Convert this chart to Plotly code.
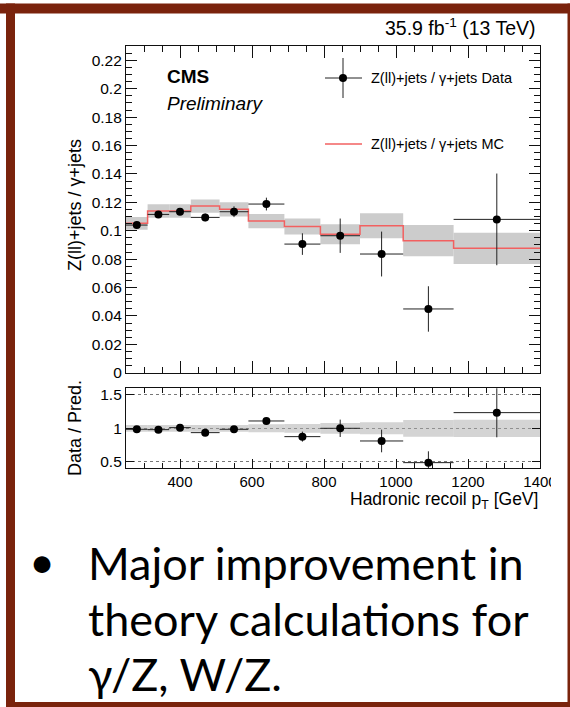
import plotly.graph_objects as go

# ---------------- data ----------------
bin_edges = [250, 310, 370, 430, 510, 590, 690, 790, 900, 1020, 1160, 1400]
data_ratio = [0.1040, 0.1115, 0.1134, 0.1094, 0.1134, 0.1188, 0.0906, 0.0965, 0.0836, 0.0449, 0.1080]
data_ratio_err = [0.0020, 0.0022, 0.0024, 0.0027, 0.0038, 0.0045, 0.0076, 0.0121, 0.0158, 0.0160, 0.0323]
mc_ratio = [0.1052, 0.1139, 0.1139, 0.1174, 0.1151, 0.1068, 0.1030, 0.0975, 0.1035, 0.0930, 0.0876]
mc_ratio_err = [0.0045, 0.0047, 0.0047, 0.0047, 0.0050, 0.0050, 0.0056, 0.0070, 0.0088, 0.0110, 0.0110]
data_over_pred = [0.985, 0.980, 1.010, 0.935, 0.985, 1.110, 0.875, 1.000, 0.810, 0.485, 1.235]
data_over_pred_err = [0.020, 0.022, 0.022, 0.025, 0.034, 0.045, 0.075, 0.130, 0.170, 0.170, 0.370]
pred_band = [0.050, 0.050, 0.050, 0.050, 0.050, 0.060, 0.065, 0.080, 0.090, 0.125, 0.130]

main_ytick_vals = [0, 0.02, 0.04, 0.06, 0.08, 0.10, 0.12, 0.14, 0.16, 0.18, 0.20, 0.22]
main_ytick_text = ["0", "0.02", "0.04", "0.06", "0.08", "0.1", "0.12", "0.14", "0.16", "0.18", "0.2", "0.22"]
ratio_ytick_vals = [0.5, 1.0, 1.5]
ratio_ytick_text = ["0.5", "1", "1.5"]
xtick_vals = [400, 600, 800, 1000, 1200, 1400]
xtick_text = ["400", "600", "800", "1000", "1200", "1400"]

bullet_lines = ["Major improvement in", "theory calculations for", "γ/Z, W/Z."]

# ---------------- helpers ----------------
W, H = 570, 707
def px(x):
    return x / W
def py(y):
    return 1 - y / H

centers = [(a + b) / 2 for a, b in zip(bin_edges[:-1], bin_edges[1:])]
widths = [b - a for a, b in zip(bin_edges[:-1], bin_edges[1:])]
half_w = [w / 2 for w in widths]

FONT = "Liberation Sans, Arial, Helvetica, sans-serif"
AX = "#111111"

fig = go.Figure()

# MC uncertainty band (main)
fig.add_trace(go.Bar(
    x=centers, width=widths,
    base=[m - e for m, e in zip(mc_ratio, mc_ratio_err)],
    y=[2 * e for e in mc_ratio_err],
    marker=dict(color="#cccccc", line=dict(width=0)),
    xaxis="x", yaxis="y", showlegend=False, hoverinfo="skip"))

# MC step line
fig.add_trace(go.Scatter(
    x=bin_edges, y=mc_ratio + [mc_ratio[-1]],
    mode="lines", line=dict(color="#f26060", width=1.5, shape="hv"),
    xaxis="x", yaxis="y", showlegend=False, hoverinfo="skip"))

# Data
fig.add_trace(go.Scatter(
    x=centers, y=data_ratio, mode="markers",
    marker=dict(color="black", size=8),
    error_x=dict(type="data", array=half_w, symmetric=True, width=0, thickness=1, color="#222"),
    error_y=dict(type="data", array=data_ratio_err, symmetric=True, width=0, thickness=1, color="#222"),
    xaxis="x", yaxis="y", showlegend=False, hoverinfo="skip"))

# ratio band
fig.add_trace(go.Bar(
    x=centers, width=widths,
    base=[1 - b for b in pred_band],
    y=[2 * b for b in pred_band],
    marker=dict(color="rgba(170,170,170,0.5)", line=dict(width=0)),
    xaxis="x2", yaxis="y2", showlegend=False, hoverinfo="skip"))

fig.add_trace(go.Scatter(
    x=centers, y=data_over_pred, mode="markers",
    marker=dict(color="black", size=8),
    error_x=dict(type="data", array=half_w, symmetric=True, width=0, thickness=1, color="#222"),
    error_y=dict(type="data", array=data_over_pred_err, symmetric=True, width=0, thickness=1, color="#222"),
    xaxis="x2", yaxis="y2", showlegend=False, hoverinfo="skip"))

xdom = [px(126), px(540)]
common_x = dict(range=[250, 1400], showline=True, linecolor=AX, linewidth=1.2, mirror="ticks",
                ticks="inside", tickcolor=AX, tickwidth=1, showgrid=False, zeroline=False,
                tickvals=xtick_vals, ticktext=xtick_text, automargin=False,
                tickfont=dict(family=FONT, size=15, color="black"))

fig.update_layout(
    width=W, height=H, autosize=False,
    margin=dict(l=0, r=0, t=0, b=0, pad=0),
    paper_bgcolor="white", plot_bgcolor="white",
    barmode="overlay", hovermode=False, showlegend=False,
    xaxis=dict(domain=xdom, anchor="y", showticklabels=False, ticklen=12,
               minor=dict(ticks="inside", ticklen=6, dtick=50, tick0=0, tickcolor=AX, showgrid=False),
               **common_x),
    yaxis=dict(domain=[py(372.7), py(45.5)], anchor="x", range=[0, 0.2305],
               tickvals=main_ytick_vals, ticktext=main_ytick_text,
               showline=True, linecolor=AX, linewidth=1.2, mirror="ticks",
               ticks="inside", ticklen=11, tickcolor=AX, tickwidth=1,
               minor=dict(ticks="inside", ticklen=5.5, dtick=0.005, tick0=0, tickcolor=AX, showgrid=False),
               showgrid=False, zeroline=False, automargin=False,
               tickfont=dict(family=FONT, size=15.5, color="black")),
    xaxis2=dict(domain=xdom, anchor="y2", ticklen=9,
                minor=dict(ticks="inside", ticklen=5, dtick=50, tick0=0, tickcolor=AX, showgrid=False),
                **common_x),
    yaxis2=dict(domain=[py(468.3), py(388.3)], anchor="x2", range=[0.4, 1.6],
                tickvals=ratio_ytick_vals, ticktext=ratio_ytick_text,
                showline=True, linecolor=AX, linewidth=1.2, mirror="ticks",
                ticks="inside", ticklen=8, tickcolor=AX, tickwidth=1,
                showgrid=True, gridcolor="#777777", griddash="dot", gridwidth=1,
                zeroline=False, automargin=False,
                tickfont=dict(family=FONT, size=15.5, color="black")),
)

ann = []
def add_text(text, x, y, size, xanchor="left", yanchor="middle", family=FONT, angle=0, color="black"):
    ann.append(dict(text=text, x=px(x), y=py(y), xref="paper", yref="paper",
                    xanchor=xanchor, yanchor=yanchor, showarrow=False, textangle=angle,
                    font=dict(family=family, size=size, color=color)))

add_text("35.9 fb<sup>-1</sup> (13 TeV)", 538, 27, 19.5, xanchor="right")
add_text("<b>CMS</b>", 165, 76, 19)
add_text("<i>Preliminary</i>", 165, 103, 19)
add_text("Z(ll)+jets / γ+jets Data", 369, 78, 14.5)
add_text("Z(ll)+jets / γ+jets MC", 369, 144, 14.5)
add_text("Z(ll)+jets / γ+jets", 75, 205, 18, xanchor="center", angle=-90)
add_text("Data / Pred.", 75, 428, 18, xanchor="center", angle=-90)
add_text("Hadronic recoil p<sub>T</sub> [GeV]", 540, 487, 17.5, xanchor="right", yanchor="top")

# bullet text
BF = "Lato, Calibri, Carlito, sans-serif"
add_text("•", 27, 561, 45, family=BF)
for i, line in enumerate(bullet_lines):
    add_text(line, 86, 563 + i * 55.5, 45, family=BF)

fig.update_layout(annotations=ann)

shapes = []
BROWN = "#7a230c"
def rect(x0, y0, x1, y1, color, layer="above"):
    shapes.append(dict(type="rect", xref="paper", yref="paper",
                       x0=px(x0), x1=px(x1), y0=py(y1), y1=py(y0),
                       fillcolor=color, line=dict(width=0), layer=layer))

# legend glyphs
lx, ly1, ly2 = 343, 78, 144
shapes.append(dict(type="line", xref="paper", yref="paper", x0=px(lx), x1=px(lx), y0=py(ly1 - 20), y1=py(ly1 + 20),
                   line=dict(color="#222", width=1)))
shapes.append(dict(type="line", xref="paper", yref="paper", x0=px(lx - 18), x1=px(lx + 19), y0=py(ly1), y1=py(ly1),
                   line=dict(color="#222", width=1)))
shapes.append(dict(type="circle", xref="paper", yref="paper", x0=px(lx - 4), x1=px(lx + 4), y0=py(ly1 + 4), y1=py(ly1 - 4),
                   fillcolor="black", line=dict(width=0)))
shapes.append(dict(type="line", xref="paper", yref="paper", x0=px(lx - 18), x1=px(lx + 19), y0=py(ly2), y1=py(ly2),
                   line=dict(color="#f26060", width=1.5)))

# clipped image edge (cuts the last x label)
rect(551, 468, 567, 492, "white")

# slide frame
rect(0, 3.5, 570, 13.5, BROWN)
rect(6, 3.5, 15, 707, BROWN)
rect(6, 702, 570, 707, BROWN)
rect(567.5, 3.5, 570, 707, BROWN)

fig.update_layout(shapes=shapes)

fig.write_html("out.html")
